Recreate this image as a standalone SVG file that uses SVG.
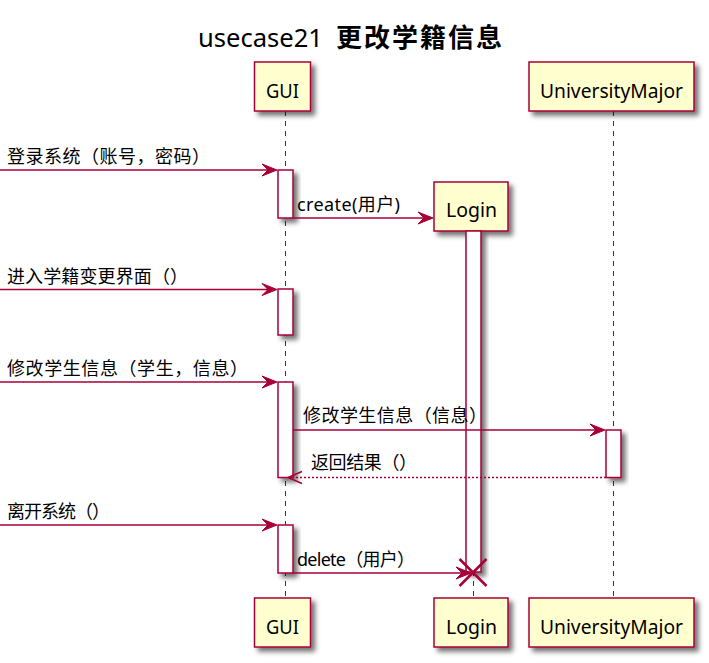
<svg xmlns="http://www.w3.org/2000/svg" width="709" height="663" viewBox="0 0 709 663">
<style>
.box{fill:#FEFECE;stroke:#A80036;stroke-width:1.5;filter:url(#sh)}
.act{fill:#FFFFFF;stroke:#A80036;stroke-width:1.5;filter:url(#sh)}
.life{stroke:#A80036;stroke-width:1;stroke-dasharray:5,5;fill:none}
.msg{stroke:#A80036;stroke-width:1.5;fill:none}
.ret{stroke:#A80036;stroke-width:1.5;fill:none;stroke-dasharray:2,2}
.head{fill:#A80036;stroke:#A80036;stroke-width:1}
.t{font-family:"Noto Sans","Noto Sans CJK SC",sans-serif;font-size:18px;fill:#000}
.p{font-family:"Noto Sans","Noto Sans CJK SC",sans-serif;font-size:19px;fill:#000;text-anchor:start}
</style>
<defs>
<filter id="sh" x="-50%" y="-50%" width="200%" height="200%">
<feDropShadow dx="4" dy="4" stdDeviation="2.5" flood-color="#000" flood-opacity="0.55"/>
</filter>
</defs>
<rect width="709" height="663" fill="#FFFFFF"/>
<g id="title">
<text x="198" y="47" font-family="'Noto Sans','Noto Sans CJK SC',sans-serif" font-size="25" textLength="125" lengthAdjust="spacingAndGlyphs">usecase21</text>
<text x="336" y="47" font-family="'Noto Sans CJK SC','Noto Sans',sans-serif" font-size="26" font-weight="bold" textLength="166" lengthAdjust="spacing">更改学籍信息</text>
</g>
<g id="lifelines">
<line class="life" x1="285.5" y1="111" x2="285.5" y2="598"/>
<line class="life" x1="613.5" y1="111" x2="613.5" y2="598"/>
<line class="life" x1="473.5" y1="231" x2="473.5" y2="598"/>
</g>
<g id="GUI">
<rect class="box" x="254.5" y="62" width="56" height="49"/>
<text class="p" x="266" y="97.5" textLength="33" lengthAdjust="spacingAndGlyphs">GUI</text>
<rect class="box" x="254.5" y="598" width="56" height="49"/>
<text class="p" x="266" y="633.5" textLength="33" lengthAdjust="spacingAndGlyphs">GUI</text>
</g>
<g id="UniversityMajor">
<rect class="box" x="529" y="62" width="165" height="49"/>
<text class="p" x="540" y="97.5" textLength="143" lengthAdjust="spacingAndGlyphs">UniversityMajor</text>
<rect class="box" x="529" y="598" width="165" height="49"/>
<text class="p" x="540" y="633.5" textLength="143" lengthAdjust="spacingAndGlyphs">UniversityMajor</text>
</g>
<g id="Login">
<rect class="box" x="434" y="182" width="74" height="49"/>
<text class="p" x="446" y="217" textLength="51" lengthAdjust="spacingAndGlyphs">Login</text>
<rect class="box" x="434" y="598" width="74" height="49"/>
<text class="p" x="446" y="633.5" textLength="51" lengthAdjust="spacingAndGlyphs">Login</text>
</g>
<g id="activations">
<rect class="act" x="278" y="170" width="15" height="48"/>
<rect class="act" x="278" y="289" width="15" height="46"/>
<rect class="act" x="278" y="382" width="15" height="95.5"/>
<rect class="act" x="278" y="525" width="15" height="48"/>
<rect class="act" x="606" y="430" width="15" height="47.5"/>
<rect class="act" x="466" y="231" width="15" height="341"/>
</g>
<g id="connectors">
<line class="msg" x1="0" y1="170" x2="270" y2="170"/>
<polygon class="head" points="277,170 262,164 268,170 262,176"/>
<line class="msg" x1="293" y1="218" x2="426" y2="218"/>
<polygon class="head" points="433,218 418,212 424,218 418,224"/>
<line class="msg" x1="0" y1="289.5" x2="270" y2="289.5"/>
<polygon class="head" points="277,289.5 262,283.5 268,289.5 262,295.5"/>
<line class="msg" x1="0" y1="382" x2="270" y2="382"/>
<polygon class="head" points="277,382 262,376 268,382 262,388"/>
<line class="msg" x1="293" y1="430" x2="598" y2="430"/>
<polygon class="head" points="605,430 590,424 596,430 590,436"/>
<line class="ret" x1="606" y1="477.5" x2="289" y2="477.5"/>
<polyline class="msg" points="302,471.5 288,477.5 302,483.5"/>
<line class="msg" x1="0" y1="525" x2="270" y2="525"/>
<polygon class="head" points="277,525 262,519 268,525 262,531"/>
<line class="msg" x1="293" y1="573" x2="464" y2="573"/>
<polygon class="head" points="471,573 456,567 462,573 456,579"/>
<line x1="459.5" y1="559" x2="486.5" y2="586" stroke="#A80036" stroke-width="2.5"/>
<line x1="486.5" y1="559" x2="459.5" y2="586" stroke="#A80036" stroke-width="2.5"/>
</g>
<g id="labels">
<text class="t" x="7" y="163" textLength="203" lengthAdjust="spacing">登录系统（账号，密码）</text>
<text class="t" x="297" y="211" textLength="103" lengthAdjust="spacing">create(用户)</text>
<text class="t" x="7" y="283" textLength="181" lengthAdjust="spacing">进入学籍变更界面（）</text>
<text class="t" x="7" y="375" textLength="241" lengthAdjust="spacing">修改学生信息（学生，信息）</text>
<text class="t" x="303" y="422" textLength="184" lengthAdjust="spacing">修改学生信息（信息）</text>
<text class="t" x="311" y="469" textLength="106" lengthAdjust="spacing">返回结果（）</text>
<text class="t" x="7" y="518" textLength="103" lengthAdjust="spacing">离开系统（）</text>
<text class="t" x="297" y="566" textLength="118" lengthAdjust="spacing">delete（用户）</text>
</g>
</svg>
